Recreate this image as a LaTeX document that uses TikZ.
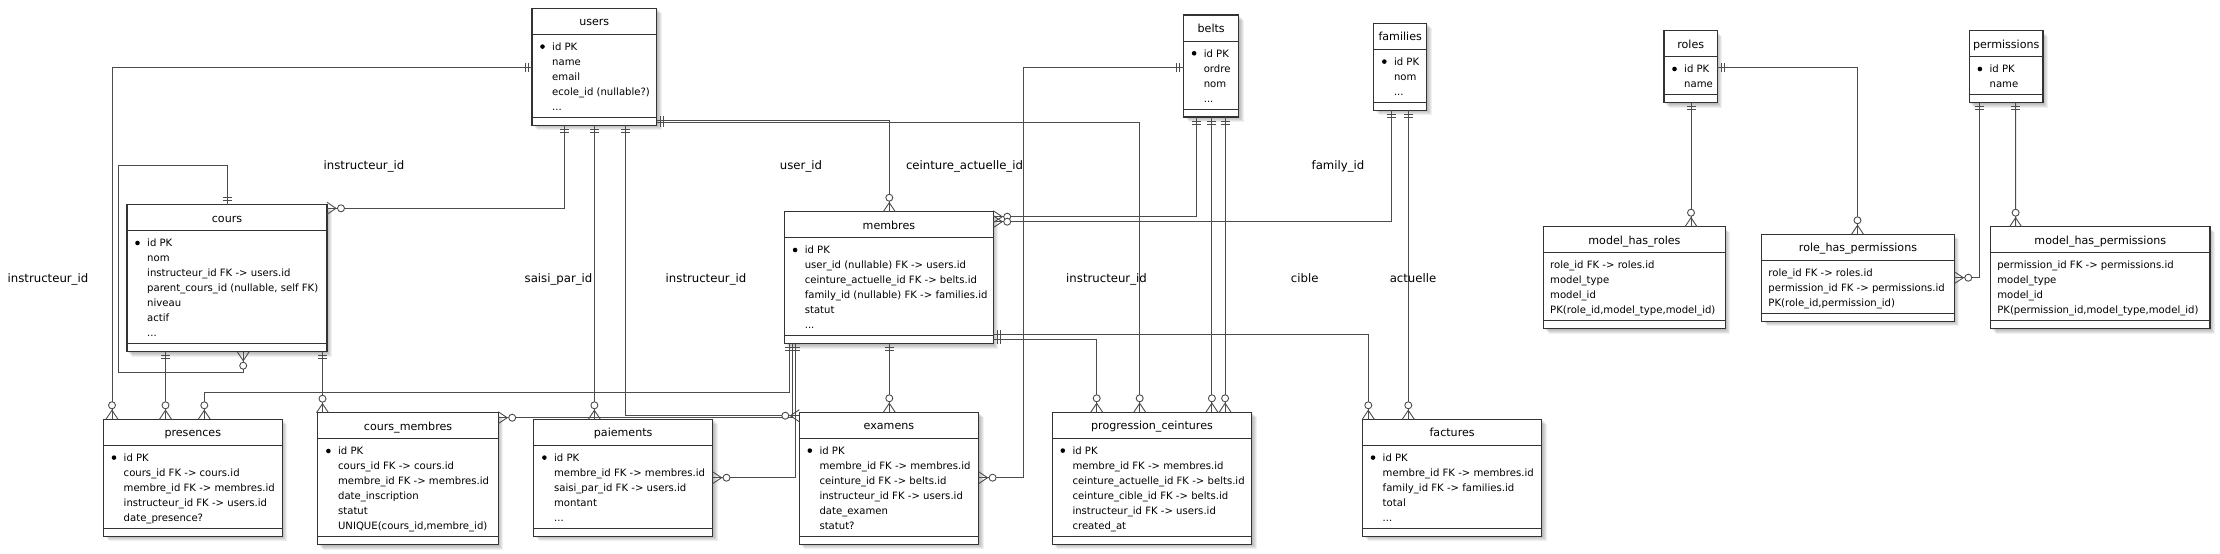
\documentclass[tikz,border=0pt]{standalone}
\usepackage{fontspec}
\setmainfont{DejaVu Sans}
\usetikzlibrary{calc}
\newcommand\etc{.\kern0pt.\kern0pt.}
\tikzset{
 entbox/.style={draw=black!80, line width=1.1pt, fill=white, inner sep=0pt, outer sep=0pt},
 boxline/.style={draw=black!80, line width=1pt},
 conn/.style={draw=black!70, line width=0.9pt},
 titletext/.style={font=\fontsize{11.1}{13}\selectfont, inner sep=0pt, anchor=base},
 rowtext/.style={font=\fontsize{10.1}{12}\selectfont, inner sep=0pt, anchor=base west},
 lbltext/.style={font=\fontsize{11.7}{14}\selectfont, inner sep=0pt, anchor=base},
}
% #1 name #2 x #3 y #4 width #5 title #6 rows #7 text offset (20 = with PK bullet) #8 rows
\newcommand\ent[8]{%
 \pgfmathsetmacro\entH{42+15*#6}%
 \foreach \k in {1,2,3,4,5}{\fill[black,opacity=0.06] (#2+\k,#3+\k) rectangle ++(#4,\entH);}%
 \node[entbox,minimum width=#4pt,minimum height=\entH pt,anchor=north west] (#1) at (#2,#3) {};%
 \draw[boxline] (#2,#3+26) -- ++(#4,0);%
 \draw[boxline] (#2,#3+\entH-8) -- ++(#4,0);%
 \node[titletext] (#1-t) at (#2+#4/2,#3+17.5) {#5};%
 \ifdim#7pt>10pt \fill[black] (#2+10.5,#3+38.3) circle (2.3);\fi%
 \foreach \r [count=\i] in {#8}{\node[rowtext] (#1-r\i) at (#2+#7,#3+27+15*\i) {\r};}%
}
\newcommand\one[2]{\draw[conn] ($(#1)+(#2:4)+(#2+90:4.5)$) -- ($(#1)+(#2:4)+(#2-90:4.5)$) ($(#1)+(#2:7)+(#2+90:4.5)$) -- ($(#1)+(#2:7)+(#2-90:4.5)$);}
\newcommand\many[2]{\draw[conn] ($(#1)+(#2+90:6)$) -- ($(#1)+(#2:9)$) -- ($(#1)+(#2-90:6)$); \draw[conn,fill=white] ($(#1)+(#2:14)$) circle (3.5);}
\begin{document}
\begin{tikzpicture}[x=1pt,y=-1pt]
\fill[white] (0,0) rectangle (2220,554);
\useasboundingbox (0,0) rectangle (2220,554);

\ent{users}{532}{8.3}{124.5}{users}{5}{20}{{id PK},name,email,{ecole\_id (nullable?)},\etc}
\ent{cours}{127}{204.7}{200}{cours}{7}{20}{{id PK},nom,{instructeur\_id FK -> users.id},{parent\_cours\_id (nullable, self FK)},niveau,actif,\etc}
\ent{membres}{784.6}{211.7}{208.6}{membres}{6}{20}{{id PK},{user\_id (nullable) FK -> users.id},{ceinture\_actuelle\_id FK -> belts.id},{family\_id (nullable) FK -> families.id},statut,\etc}
\ent{belts}{1183.6}{15}{55.2}{belts}{4}{20}{{id PK},ordre,nom,\etc}
\ent{families}{1373.8}{23.3}{52.8}{families}{3}{20}{{id PK},nom,\etc}
\ent{roles}{1664}{30.7}{53.4}{roles}{2}{20}{{id PK},name}
\ent{permissions}{1969.4}{30.7}{73.6}{permissions}{2}{20}{{id PK},name}
\ent{presences}{103.5}{419.3}{178.6}{presences}{5}{20}{{id PK},{cours\_id FK -> cours.id},{membre\_id FK -> membres.id},{instructeur\_id FK -> users.id},{date\_presence?}}
\ent{coursmembres}{317.9}{412.7}{180.3}{cours\_membres}{6}{20}{{id PK},{cours\_id FK -> cours.id},{membre\_id FK -> membres.id},{date\_inscription},statut,{UNIQUE(cours\_id,membre\_id)}}
\ent{paiements}{533.9}{419.3}{178.6}{paiements}{5}{20}{{id PK},{membre\_id FK -> membres.id},{saisi\_par\_id FK -> users.id},montant,\etc}
\ent{examens}{799.3}{412.3}{179.3}{examens}{6}{20}{{id PK},{membre\_id FK -> membres.id},{ceinture\_id FK -> belts.id},{instructeur\_id FK -> users.id},{date\_examen},{statut?}}
\ent{progression}{1052.3}{412.3}{199.4}{progression\_ceintures}{6}{20}{{id PK},{membre\_id FK -> membres.id},{ceinture\_actuelle\_id FK -> belts.id},{ceinture\_cible\_id FK -> belts.id},{instructeur\_id FK -> users.id},{created\_at}}
\ent{factures}{1362.5}{419.3}{179.2}{factures}{5}{20}{{id PK},{membre\_id FK -> membres.id},{family\_id FK -> families.id},total,\etc}
\ent{mhr}{1543.5}{226.7}{181.9}{model\_has\_roles}{4}{6.5}{{role\_id FK -> roles.id},{model\_type},{model\_id},{PK(role\_id,model\_type,model\_id)}}
\ent{rhp}{1761.7}{234.3}{192.6}{role\_has\_permissions}{3}{6.5}{{role\_id FK -> roles.id},{permission\_id FK -> permissions.id},{PK(role\_id,permission\_id)}}
\ent{mhp}{1990.6}{226.7}{219.4}{model\_has\_permissions}{4}{6.5}{{permission\_id FK -> permissions.id},{model\_type},{model\_id},{PK(permission\_id,model\_type,model\_id)}}

% connector end points
\coordinate (u1) at ($(users.south west)+(32.4,0)$);
\coordinate (c1) at ($(cours.north east)+(0,3.6)$);
\coordinate (u2) at ($(users.north west)+(0,59.4)$);
\coordinate (p2) at ($(presences.north west)+(8.5,0)$);
\coordinate (cs1) at ($(cours.north west)+(100.5,0)$);
\coordinate (cs2) at ($(cours.south west)+(116.2,0)$);
\coordinate (c4a) at ($(cours.south west)+(38.5,0)$);
\coordinate (c4b) at ($(presences.north west)+(62,0)$);
\coordinate (c5a) at ($(cours.south west)+(195.5,0)$);
\coordinate (c5b) at ($(coursmembres.north west)+(4.6,0)$);
\coordinate (m6) at ($(membres.south west)+(4.4,0)$);
\coordinate (p6) at ($(presences.north west)+(100.8,0)$);
\coordinate (m7) at ($(membres.south west)+(7.7,0)$);
\coordinate (cm7) at ($(coursmembres.north east)+(0,5)$);
\coordinate (m8) at ($(membres.south west)+(11,0)$);
\coordinate (pa8) at ($(paiements.north east)+(0,58.4)$);
\coordinate (u9) at ($(users.south west)+(62.4,0)$);
\coordinate (pa9) at ($(paiements.north west)+(60.5,0)$);
\coordinate (u10) at ($(users.south west)+(93.5,0)$);
\coordinate (ex10) at ($(examens.north west)+(0,3.4)$);
\coordinate (u11) at ($(users.south east)+(0,-4.6)$);
\coordinate (m11) at ($(membres.north west)+(104.7,0)$);
\coordinate (u12) at ($(users.south east)+(0,-2.6)$);
\coordinate (pc12) at ($(progression.north west)+(87.4,0)$);
\coordinate (b13) at ($(belts.north west)+(0,52.7)$);
\coordinate (ex13) at ($(examens.north east)+(0,65.4)$);
\coordinate (b14) at ($(belts.south west)+(13.2,0)$);
\coordinate (m14) at ($(membres.north east)+(0,5)$);
\coordinate (f15) at ($(families.south west)+(17.9,0)$);
\coordinate (m15) at ($(membres.north east)+(0,10)$);
\coordinate (b16) at ($(belts.south west)+(28.3,0)$);
\coordinate (pc16) at ($(progression.north west)+(159.6,0)$);
\coordinate (b17) at ($(belts.south west)+(41.5,0)$);
\coordinate (pc17) at ($(progression.north west)+(172.8,0)$);
\coordinate (f18) at ($(families.south west)+(34.5,0)$);
\coordinate (fa18) at ($(factures.north west)+(45.8,0)$);
\coordinate (m19) at ($(membres.south east)+(0,-9.4)$);
\coordinate (fa19) at ($(factures.north west)+(5.8,0)$);
\coordinate (m20) at ($(membres.south east)+(0,-4.4)$);
\coordinate (pc20) at ($(progression.north west)+(44.4,0)$);
\coordinate (m21) at ($(membres.south west)+(104.7,0)$);
\coordinate (ex21) at ($(examens.north west)+(90,0)$);
\coordinate (r22) at ($(roles.south west)+(27,0)$);
\coordinate (mr22) at ($(mhr.north west)+(147.5,0)$);
\coordinate (r23) at ($(roles.north east)+(0,37)$);
\coordinate (rp23) at ($(rhp.north west)+(95.8,0)$);
\coordinate (pm24) at ($(permissions.south west)+(9.9,0)$);
\coordinate (rp24) at ($(rhp.north east)+(0,43.4)$);
\coordinate (pm25) at ($(permissions.south west)+(46.2,0)$);
\coordinate (mp25) at ($(mhp.north west)+(25,0)$);

% connectors
\draw[conn] (u1) |- (c1);
\draw[conn] (u2) -| (p2);
\draw[conn] (cs1) -- ++(0,-39) -- ++(-109,0) -- ++(0,206.6) -| (cs2);
\draw[conn] (c4a) -- (c4b);
\draw[conn] (c5a) -- (c5b);
\draw[conn] (m6) -- ++(0,48.6) -| (p6);
\draw[conn] (m7) |- (cm7);
\draw[conn] (m8) |- (pa8);
\draw[conn] (u9) -- (pa9);
\draw[conn] (u10) |- (ex10);
\draw[conn] (u11) -| (m11);
\draw[conn] (u12) -| (pc12);
\draw[conn] (b13) -- ++(-160.3,0) |- (ex13);
\draw[conn] (b14) |- (m14);
\draw[conn] (f15) |- (m15);
\draw[conn] (b16) -- (pc16);
\draw[conn] (b17) -- (pc17);
\draw[conn] (f18) -- (fa18);
\draw[conn] (m19) -| (fa19);
\draw[conn] (m20) -| (pc20);
\draw[conn] (m21) -- (ex21);
\draw[conn] (r22) -- (mr22);
\draw[conn] (r23) -| (rp23);
\draw[conn] (pm24) |- (rp24);
\draw[conn] (pm25) -- (mp25);

% cardinality marks
\one{u1}{90} \many{c1}{0}
\one{u2}{180} \many{p2}{270}
\one{cs1}{270} \many{cs2}{90}
\one{c4a}{90} \many{c4b}{270}
\one{c5a}{90} \many{c5b}{270}
\one{m6}{90} \many{p6}{270}
\one{m7}{90} \many{cm7}{0}
\one{m8}{90} \many{pa8}{0}
\one{u9}{90} \many{pa9}{270}
\one{u10}{90} \many{ex10}{180}
\one{u11}{0} \many{m11}{270}
\one{u12}{0} \many{pc12}{270}
\one{b13}{180} \many{ex13}{0}
\one{b14}{90} \many{m14}{0}
\one{f15}{90} \many{m15}{0}
\one{b16}{90} \many{pc16}{270}
\one{b17}{90} \many{pc17}{270}
\one{f18}{90} \many{fa18}{270}
\one{m19}{0} \many{fa19}{270}
\one{m20}{0} \many{pc20}{270}
\one{m21}{90} \many{ex21}{270}
\one{r22}{90} \many{mr22}{270}
\one{r23}{0} \many{rp23}{270}
\one{pm24}{90} \many{rp24}{0}
\one{pm25}{90} \many{mp25}{270}

% labels
\node[lbltext] (l1) at (364,169.7) {instructeur\_id};
\node[lbltext] (l2) at (48,282.3) {instructeur\_id};
\node[lbltext] (l3) at (558.5,282.3) {saisi\_par\_id};
\node[lbltext] (l4) at (706,282.3) {instructeur\_id};
\node[lbltext] (l5) at (801,169.7) {user\_id};
\node[lbltext] (l6) at (964.5,169.7) {ceinture\_actuelle\_id};
\node[lbltext] (l7) at (1106.5,282.3) {instructeur\_id};
\node[lbltext] (l8) at (1338,169.7) {family\_id};
\node[lbltext] (l9) at (1304.7,282.3) {cible};
\node[lbltext] (l10) at (1413,282.3) {actuelle};
\end{tikzpicture}
\end{document}
